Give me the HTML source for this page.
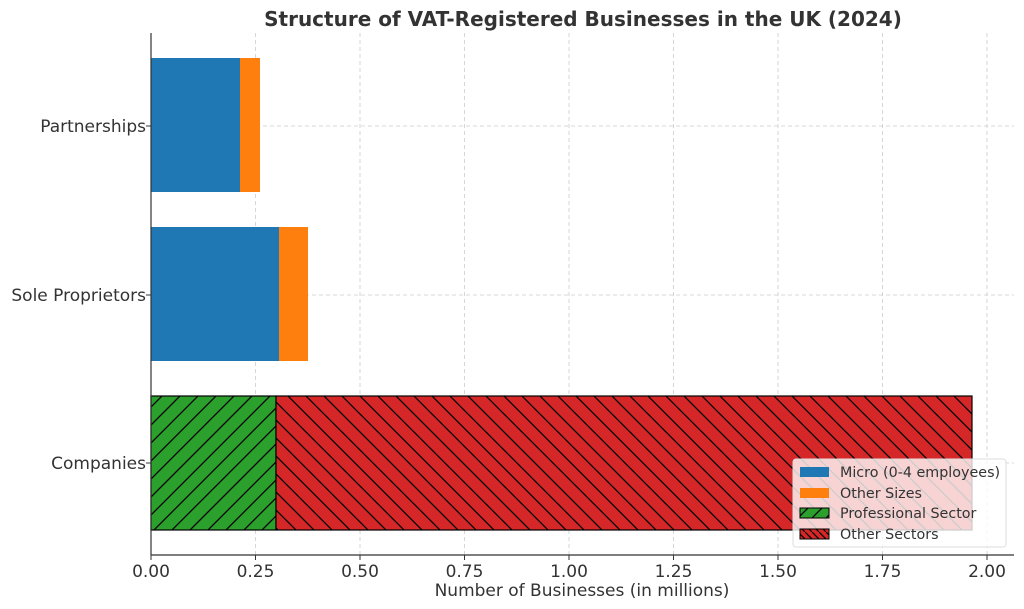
<!DOCTYPE html>
<html><head><meta charset="utf-8"><style>body{margin:0;background:#fff}svg{display:block}</style></head>
<body>
<svg width="1024" height="609" xmlns="http://www.w3.org/2000/svg" font-family="DejaVu Sans, Liberation Sans, sans-serif">
<defs>
<pattern id="hg" patternUnits="userSpaceOnUse" width="18" height="18">
<rect width="18" height="18" fill="#2ca02c"/>
<path d="M-4.5,4.5 L4.5,-4.5 M0,18 L18,0 M13.5,22.5 L22.5,13.5" stroke="#000" stroke-width="1.3"/>
</pattern>
<pattern id="hr" patternUnits="userSpaceOnUse" width="18" height="18">
<rect width="18" height="18" fill="#d62728"/>
<path d="M-4.5,13.5 L4.5,22.5 M0,0 L18,18 M13.5,-4.5 L22.5,4.5" stroke="#000" stroke-width="1.3"/>
</pattern>
<pattern id="hgl" patternUnits="userSpaceOnUse" width="14" height="14">
<rect width="14" height="14" fill="#2ca02c"/>
<path d="M0,14 L14,0" stroke="#000" stroke-width="1.2"/>
</pattern>
<pattern id="hrl" patternUnits="userSpaceOnUse" width="7" height="7">
<rect width="7" height="7" fill="#d62728"/>
<path d="M-2,-2 L9,9" stroke="#000" stroke-width="1.2"/>
</pattern>
</defs>
<text x="583" y="26" text-anchor="middle" font-size="20" font-weight="bold" fill="#333">Structure of VAT-Registered Businesses in the UK (2024)</text>
<g stroke="#ccc" stroke-dasharray="4,3" stroke-width="0.8">
<line x1="255.5" y1="33" x2="255.5" y2="555"/><line x1="360" y1="33" x2="360" y2="555"/>
<line x1="464.5" y1="33" x2="464.5" y2="555"/><line x1="569" y1="33" x2="569" y2="555"/>
<line x1="673.5" y1="33" x2="673.5" y2="555"/><line x1="778" y1="33" x2="778" y2="555"/>
<line x1="882.5" y1="33" x2="882.5" y2="555"/><line x1="987" y1="33" x2="987" y2="555"/>
<line x1="151" y1="126" x2="1014" y2="126"/><line x1="151" y1="295" x2="1014" y2="295"/><line x1="151" y1="463" x2="1014" y2="463"/>
</g>
<rect x="151" y="58" width="89" height="134" fill="#1f77b4"/>
<rect x="240" y="58" width="20" height="134" fill="#ff7f0e"/>
<rect x="151" y="227" width="128" height="134" fill="#1f77b4"/>
<rect x="279" y="227" width="29" height="134" fill="#ff7f0e"/>
<rect x="151" y="396" width="125" height="134" fill="url(#hg)" stroke="#000" stroke-width="1.2"/>
<rect x="276" y="396" width="696" height="134" fill="url(#hr)" stroke="#000" stroke-width="1.2"/>
<g stroke="#333" stroke-width="1.2">
<line x1="151" y1="33" x2="151" y2="555"/><line x1="151" y1="555" x2="1014" y2="555"/>
</g>
<g stroke="#333"><line x1="146" y1="126" x2="151" y2="126"/><line x1="146" y1="295" x2="151" y2="295"/><line x1="146" y1="463" x2="151" y2="463"/>
<line x1="151" y1="555" x2="151" y2="560"/><line x1="255.5" y1="555" x2="255.5" y2="560"/><line x1="360" y1="555" x2="360" y2="560"/><line x1="464.5" y1="555" x2="464.5" y2="560"/><line x1="569" y1="555" x2="569" y2="560"/><line x1="673.5" y1="555" x2="673.5" y2="560"/><line x1="778" y1="555" x2="778" y2="560"/><line x1="882.5" y1="555" x2="882.5" y2="560"/><line x1="987" y1="555" x2="987" y2="560"/></g>
<g font-size="17" fill="#333" text-anchor="end">
<text x="146" y="132">Partnerships</text><text x="146" y="301">Sole Proprietors</text><text x="146" y="469">Companies</text>
</g>
<g font-size="17" fill="#333" text-anchor="middle">
<text x="151" y="577">0.00</text><text x="255.5" y="577">0.25</text><text x="360" y="577">0.50</text><text x="464.5" y="577">0.75</text><text x="569" y="577">1.00</text><text x="673.5" y="577">1.25</text><text x="778" y="577">1.50</text><text x="882.5" y="577">1.75</text><text x="987" y="577">2.00</text>
<text x="582" y="596">Number of Businesses (in millions)</text>
</g>
<rect x="793" y="459" width="213" height="88" rx="3" fill="#fff" fill-opacity="0.8" stroke="#ddd"/>
<rect x="800" y="467" width="29" height="10" fill="#1f77b4"/>
<rect x="800" y="488" width="29" height="10" fill="#ff7f0e"/>
<rect x="800" y="508" width="29" height="10" fill="url(#hgl)" stroke="#000"/>
<rect x="800" y="529" width="29" height="10" fill="url(#hrl)" stroke="#000"/>
<g font-size="14.3" fill="#333">
<text x="840" y="477">Micro (0-4 employees)</text><text x="840" y="498">Other Sizes</text><text x="840" y="518">Professional Sector</text><text x="840" y="539">Other Sectors</text>
</g>
</svg>
</body></html>
